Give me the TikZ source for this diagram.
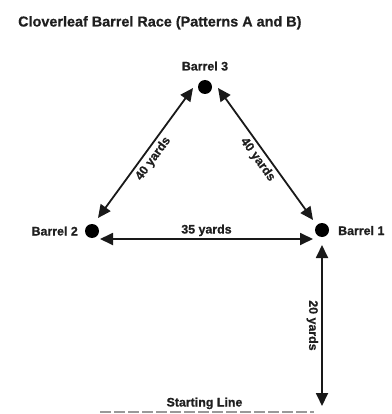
\documentclass[tikz,border=0pt]{standalone}
\usepackage{fontspec}
\setmainfont{Liberation Sans}
\newfontfamily\heavy{Liberation Sans Bold}[FakeBold=0.6]
\usetikzlibrary{arrows.meta}
\begin{document}
\begin{tikzpicture}[x=1pt,y=-1pt,
  dot/.style={circle,fill=black,minimum size=14pt,inner sep=0pt},
  lbl/.style={font=\fontsize{12.4}{14}\heavy,text=black!88,inner sep=0pt},
  dist/.style={font=\fontsize{12.4}{14}\heavy,text=black!88,inner sep=3pt},
  arr/.style={{Triangle[length=13pt,width=12pt]}-{Triangle[length=13pt,width=12pt]},line width=1.8pt,black!90},
  startline/.style={line width=2pt,black!40,dash pattern=on 11pt off 3pt}]
\useasboundingbox (0,0) rectangle (391,414);
\node[lbl,font=\fontsize{14.4}{16}\heavy,anchor=base west] (title) at (18,26.5) {Cloverleaf Barrel Race (Patterns A and B)};
\node[dot] (b3) at (205,87) {};
\node[dot] (b2) at (92,231) {};
\node[dot] (b1) at (322,230) {};
\node[lbl,anchor=base] (l3) at (205,70.5) {Barrel 3};
\node[lbl,anchor=base east] (l2) at (78,235.5) {Barrel 2};
\node[lbl,anchor=base west] (l1) at (338,235) {Barrel 1};
\coordinate (sl) at (322,406);
\node[lbl,anchor=base] (st) at (204.5,406.5) {Starting Line};
\coordinate (d1) at (100,412);
\coordinate (d2) at (314,412);
\draw[startline] (d1) -- (d2);
\draw[arr] ([shift={(6,-13)}]b2.center) -- node[dist,midway,below,sloped] {40 yards} ([shift={(-12,1)}]b3.center);
\draw[arr] ([shift={(13,1)}]b3.center) -- node[dist,midway,below,sloped] {40 yards} ([shift={(-9,-10)}]b1.center);
\draw[arr] ([shift={(8,8)}]b2.center) -- node[dist,midway,above,inner sep=2pt] {35 yards} ([shift={(-9,9)}]b1.center);
\draw[arr] ([shift={(0,15)}]b1.center) -- node[dist,midway,below,sloped] {20 yards} (sl);
\end{tikzpicture}
\end{document}
